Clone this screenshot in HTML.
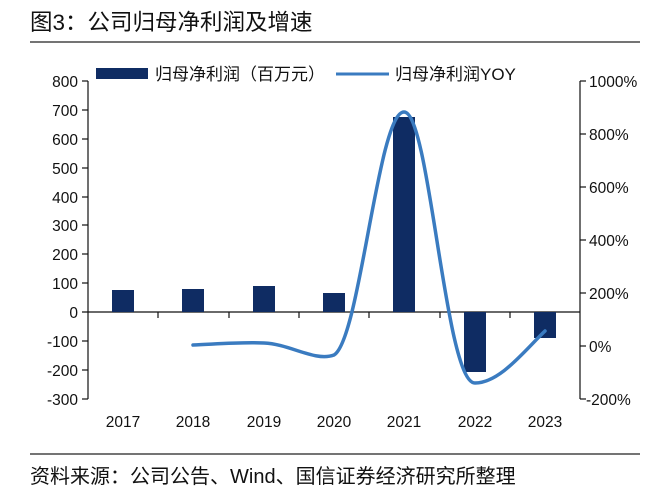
<!DOCTYPE html>
<html><head><meta charset="utf-8"><style>
body{margin:0;background:#fff;}
svg{display:block;font-family:"Liberation Sans","Noto Sans CJK SC",sans-serif;}
</style></head><body>
<svg width="660" height="499" viewBox="0 0 660 499">
<text x="30" y="30" font-size="22.5" fill="#111">图3：公司归母净利润及增速</text>
<line x1="30" y1="42" x2="640" y2="42" stroke="#222" stroke-width="1.2"/>
<!-- legend -->
<rect x="96" y="68" width="52" height="11" fill="#0f2c63"/>
<text x="155" y="80" font-size="17" fill="#111">归母净利润（百万元）</text>
<line x1="336" y1="74" x2="389" y2="74" stroke="#3a7bc0" stroke-width="3"/>
<text x="395" y="80" font-size="17" fill="#111">归母净利润YOY</text>
<!-- axes -->
<g stroke="#111" stroke-width="1.2">
<line x1="88" y1="81" x2="88" y2="399"/>
<line x1="82" y1="81" x2="88" y2="81"/><line x1="82" y1="110" x2="88" y2="110"/>
<line x1="82" y1="139" x2="88" y2="139"/><line x1="82" y1="168" x2="88" y2="168"/>
<line x1="82" y1="197" x2="88" y2="197"/><line x1="82" y1="225" x2="88" y2="225"/>
<line x1="82" y1="254" x2="88" y2="254"/><line x1="82" y1="283" x2="88" y2="283"/>
<line x1="82" y1="341" x2="88" y2="341"/><line x1="82" y1="370" x2="88" y2="370"/>
<line x1="82" y1="399" x2="88" y2="399"/>
<line x1="580" y1="81" x2="580" y2="399"/>
<line x1="580" y1="81" x2="586" y2="81"/><line x1="580" y1="134" x2="586" y2="134"/>
<line x1="580" y1="187" x2="586" y2="187"/><line x1="580" y1="240" x2="586" y2="240"/>
<line x1="580" y1="293" x2="586" y2="293"/><line x1="580" y1="346" x2="586" y2="346"/>
<line x1="580" y1="399" x2="586" y2="399"/>
<line x1="82" y1="312" x2="580" y2="312"/>
<line x1="158" y1="312" x2="158" y2="318"/><line x1="229" y1="312" x2="229" y2="318"/>
<line x1="299" y1="312" x2="299" y2="318"/><line x1="369" y1="312" x2="369" y2="318"/>
<line x1="440" y1="312" x2="440" y2="318"/><line x1="510" y1="312" x2="510" y2="318"/>
</g>
<g font-size="15.5" fill="#111" text-anchor="end">
<text x="78" y="87">800</text><text x="78" y="116">700</text><text x="78" y="145">600</text>
<text x="78" y="174">500</text><text x="78" y="203">400</text><text x="78" y="231">300</text>
<text x="78" y="260">200</text><text x="78" y="289">100</text><text x="78" y="318">0</text>
<text x="78" y="347">-100</text><text x="78" y="376">-200</text><text x="78" y="405">-300</text>
</g>
<g font-size="15.5" fill="#111">
<text x="589" y="87">1000%</text><text x="589" y="140">800%</text><text x="589" y="193">600%</text>
<text x="589" y="246">400%</text><text x="589" y="299">200%</text><text x="589" y="352">0%</text>
<text x="586" y="405">-200%</text>
</g>
<g font-size="15.5" fill="#111" text-anchor="middle">
<text x="123" y="427">2017</text><text x="193" y="427">2018</text><text x="264" y="427">2019</text>
<text x="334" y="427">2020</text><text x="404" y="427">2021</text><text x="475" y="427">2022</text>
<text x="545" y="427">2023</text>
</g>
<g fill="#0f2c63">
<rect x="112" y="290" width="22" height="22"/>
<rect x="182" y="289" width="22" height="23"/>
<rect x="253" y="286" width="22" height="26"/>
<rect x="323" y="293" width="22" height="19"/>
<rect x="393" y="117" width="22" height="195"/>
<rect x="464" y="312" width="22" height="60"/>
<rect x="534" y="312" width="22" height="26"/>
</g>
<path d="M193,345 C217,344 240,342 264,343 C290,344 315,362 334,355 C360,340 378,112 404,112 C430,112 445,383 475,383 C500,383 525,350 545,331" fill="none" stroke="#3a7bc0" stroke-width="3.5" stroke-linecap="round"/>
<line x1="30" y1="454" x2="640" y2="454" stroke="#222" stroke-width="1.2"/>
<text x="30" y="483" font-size="20" fill="#111">资料来源：公司公告、Wind、国信证券经济研究所整理</text>
</svg>
</body></html>
